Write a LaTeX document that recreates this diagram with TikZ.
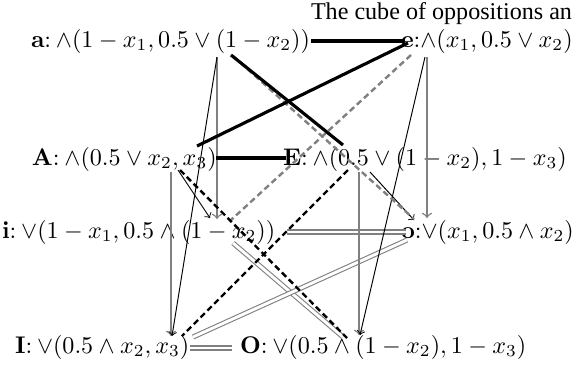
\documentclass[tikz,border=0pt]{standalone}
\usepackage[no-math]{fontspec}
\newfontfamily\titlefont{Liberation Serif}
\newcommand\lsp{\hspace{2pt}}
\begin{document}
\begin{tikzpicture}[x=0.415pt,y=-0.415pt,
  lbl/.style={anchor=base west, inner sep=0pt, outer sep=0pt, font=\fontsize{10}{12}\selectfont},
  thickline/.style={line width=1.3pt, black},
  gdash/.style={gray, line width=1pt, dash pattern=on 2.5pt off 1.5pt},
  bdash/.style={black, line width=1pt, dash pattern=on 2.5pt off 1.5pt},
  dbl/.style={draw=gray, double=white, line width=0.45pt, double distance=1.2pt},
  thinarr/.style={->, black, line width=0.4pt},
  grayarr/.style={->, gray, line width=0.6pt}]
\useasboundingbox (0,0) rectangle (573,368);
% title
\node[lbl, font=\titlefont\fontsize{10}{12}\selectfont] (title) at (311,19) {The cube of oppositions an};
% vertices
\node[lbl] (a) at (31,47)  {$\mathbf{a}$:\lsp$\wedge(1-x_1, 0.5\vee(1-x_2))$};
\node[lbl] (e) at (401,47) {$\mathbf{e}$:$\wedge(x_1, 0.5\vee x_2)$};
\node[lbl] (A) at (32,165) {$\mathbf{A}$:\lsp$\wedge(0.5\vee x_2, x_3)$};
\node[lbl] (E) at (283,165) {$\mathbf{E}$:\lsp$\wedge(0.5\vee(1-x_2), 1-x_3)$};
\node[lbl] (i) at (2,238)  {$\mathbf{i}$:\lsp$\vee(1-x_1, 0.5\wedge(1-x_2))$};
\node[lbl] (o) at (401,238) {$\mathbf{o}$:$\vee(x_1, 0.5\wedge x_2)$};
\node[lbl] (I) at (15,353) {$\mathbf{I}$:\lsp$\vee(0.5\wedge x_2, x_3)$};
\node[lbl] (O) at (240,353) {$\mathbf{O}$:\lsp$\vee(0.5\wedge(1-x_2), 1-x_3)$};
% connector ends
\coordinate (aR) at (311,41);  \coordinate (eL) at (405,41);
\coordinate (AR) at (216,158); \coordinate (EL) at (286,158);
\coordinate (aD) at (231,55);  \coordinate (ED) at (343,145);
\coordinate (eD) at (408,43);  \coordinate (AU) at (197,146);
\coordinate (aG) at (233,56);  \coordinate (oG) at (414,219);
\coordinate (eG) at (411,55);  \coordinate (iG) at (231,220);
\coordinate (AB) at (180,170); \coordinate (OB) at (347,338);
\coordinate (EB) at (348,170); \coordinate (IB) at (182,336);
\coordinate (iR) at (287,232); \coordinate (oL) at (406,232);
\coordinate (IR) at (190,348); \coordinate (OL) at (232,348);
\coordinate (iO) at (233,243); \coordinate (Oi) at (343,337);
\coordinate (oI) at (407,240); \coordinate (Io) at (193,337);
\coordinate (aI) at (217,57);  \coordinate (Ia) at (172,336);
\coordinate (Ai) at (178,170); \coordinate (iA) at (210,218);
\coordinate (eO) at (425,57);  \coordinate (Oe) at (360,335);
\coordinate (Eo) at (370,172); \coordinate (oE) at (414,220);
\coordinate (ai) at (217,57);  \coordinate (ia) at (217,219);
\coordinate (AI) at (171,172); \coordinate (IA) at (171,336);
\coordinate (eo) at (427,57);  \coordinate (oe) at (427,218);
\coordinate (EO) at (359,172); \coordinate (OE) at (359,335);
% double lines
\draw[dbl] (iR) -- (oL);
\draw[dbl] (IR) -- (OL);
\draw[dbl] (iO) -- (Oi);
\draw[dbl] (oI) -- (Io);
% gray arrows
\draw[grayarr] (ai) -- (ia);
\draw[grayarr] (AI) -- (IA);
\draw[grayarr] (eo) -- (oe);
\draw[grayarr] (EO) -- (OE);
% thin arrows
\draw[thinarr] (aI) -- (Ia);
\draw[thinarr] (Ai) -- (iA);
\draw[thinarr] (eO) -- (Oe);
\draw[thinarr] (Eo) -- (oE);
% dashed
\draw[gdash] (aG) -- (oG);
\draw[gdash] (eG) -- (iG);
\draw[bdash] (AB) -- (OB);
\draw[bdash] (EB) -- (IB);
% thick
\draw[thickline] (aR) -- (eL);
\draw[thickline] (AR) -- (EL);
\draw[thickline] (aD) -- (ED);
\draw[thickline] (eD) -- (AU);
\end{tikzpicture}
\end{document}
